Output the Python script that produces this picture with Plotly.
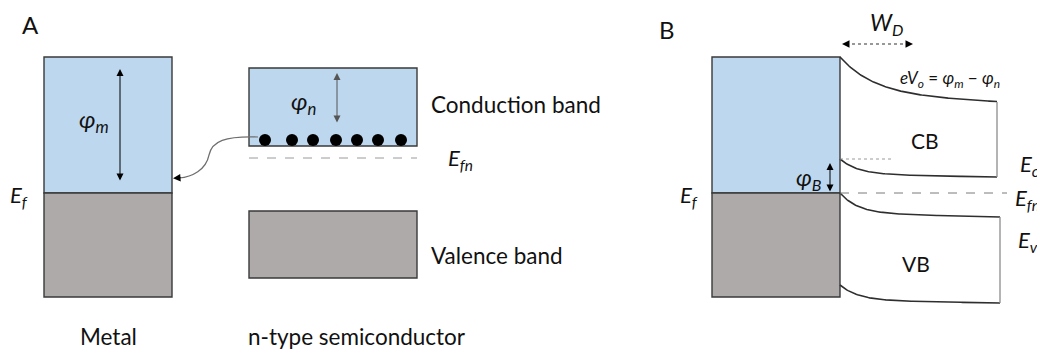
import numpy as np
import plotly.graph_objects as go

W, H = 1037, 349
BLUE = "#BDD7EE"
GRAY = "#AEAAAA"
EDGE = "#3A3A3A"
FONT = "Lato, 'Open Sans', sans-serif"

# ---- diagram values (pixel-like diagram units, y grows downward) ----
# Panel A
metal_a_x = [44, 172]
metal_levels = [57, 193, 297]          # vacuum/top, Fermi level, band bottom
sc_a_x = [249, 417]
cb_a_levels = [68, 146]
vb_a_levels = [211, 278]
efn_a_level = 158
electron_x = [265, 292, 313, 336, 357, 378, 401]
electron_level = 140

# Panel B
metal_b_x = [712, 840]
bulk_b_x = [840, 997, 1000]            # interface, CB bulk edge, VB bulk edge
cb_top_b = [57, 102]
cb_bot_b = [159, 177]
vb_top_b = [193, 217]
vb_bot_b = [285, 303]
efn_b_level = 193
wd_x = [842, 913]

fig = go.Figure()


def rect(x, y0, y1, fill):
    fig.add_shape(type="rect", x0=x[0], x1=x[1], y0=y0, y1=y1,
                  fillcolor=fill, line=dict(color=EDGE, width=1.4), layer="below")


def hline(x0, x1, y, color, dash, width=1):
    fig.add_shape(type="line", x0=x0, x1=x1, y0=y, y1=y,
                  line=dict(color=color, width=width, dash=dash))


def arrow(x, y, ax, ay, both=False, color="black", width=1, size=1.4):
    fig.add_annotation(x=x, y=y, ax=ax, ay=ay, xref="x", yref="y", axref="x", ayref="y",
                       text="", showarrow=True, arrowhead=2, startarrowhead=2,
                       arrowside="end+start" if both else "end",
                       arrowsize=size, startarrowsize=size, arrowwidth=width,
                       arrowcolor=color, standoff=0, startstandoff=0)


def label(x, y, text, size=22, anchor="center", color="#111111"):
    fig.add_annotation(x=x, y=y, xref="x", yref="y", text=text, showarrow=False,
                       xanchor=anchor, yanchor="middle",
                       font=dict(family=FONT, size=size, color=color))


def bend(x0, x1, y0, y1, L, n=120):
    xs = np.linspace(x0, x1, n)
    t = xs - x0
    frac = 0.85 * np.exp(-t / L) + 0.15 * (1 - t / (x1 - x0))
    return xs, y1 - (y1 - y0) * frac


def curve(xs, ys, color="#2e2e2e", width=1.6):
    fig.add_trace(go.Scatter(x=xs, y=ys, mode="lines", hoverinfo="skip",
                             line=dict(color=color, width=width)))


# ---------------- Panel A ----------------
rect(metal_a_x, metal_levels[0], metal_levels[1], BLUE)
rect(metal_a_x, metal_levels[1], metal_levels[2], GRAY)
rect(sc_a_x, cb_a_levels[0], cb_a_levels[1], BLUE)
rect(sc_a_x, vb_a_levels[0], vb_a_levels[1], GRAY)
hline(sc_a_x[0], sc_a_x[1], efn_a_level, "#9a9a9a", "dash")

# electron transfer curved arrow
fig.add_shape(type="path",
              path="M 258,137 C 225,136 212,141 209,155 C 206,170 192,177 179,178",
              line=dict(color="#6e6e6e", width=1.2))
arrow(173, 178.3, 182, 177.6, size=1.5)

fig.add_trace(go.Scatter(x=electron_x, y=[electron_level] * len(electron_x), mode="markers",
                         hoverinfo="skip", marker=dict(color="black", size=12, line=dict(width=0))))

arrow(120, 69, 120, 182, both=True)
arrow(337, 73, 337, 124, both=True, color="#555555")

label(30, 24, "A", size=24)
label(94, 120, "<i>φ</i><sub><i>m</i></sub>", size=24)
label(303, 102, "<i>φ</i><sub><i>n</i></sub>", size=24)
label(19, 196, "<i>E</i><sub><i>f</i></sub>", size=22)
label(446, 159, "<i>E</i><sub><i>fn</i></sub>", size=22, anchor="left")
label(429, 104, "Conduction band", size=22.5, anchor="left")
label(429, 255, "Valence band", size=22.5, anchor="left")
label(108, 336, "Metal", size=22.5)
label(357, 336, "n-type semiconductor", size=22.5)

# ---------------- Panel B ----------------
rect(metal_b_x, metal_levels[0], metal_levels[1], BLUE)
rect(metal_b_x, metal_levels[1], metal_levels[2], GRAY)

hline(bulk_b_x[0], 893, cb_bot_b[0], "#9a9a9a", "dot")
hline(bulk_b_x[0], 1007, efn_b_level, "#7a7a7a", "dash")

curve(*bend(bulk_b_x[0], bulk_b_x[1], cb_top_b[0], cb_top_b[1], 35))
curve(*bend(bulk_b_x[0], bulk_b_x[1], cb_bot_b[0], cb_bot_b[1], 18))
curve(*bend(bulk_b_x[0], bulk_b_x[2], vb_top_b[0], vb_top_b[1], 18))
curve(*bend(bulk_b_x[0], bulk_b_x[2], vb_bot_b[0], vb_bot_b[1], 18))
curve([bulk_b_x[1], bulk_b_x[1]], [cb_top_b[1], cb_bot_b[1]], color="#8c8c8c", width=1.3)
curve([bulk_b_x[2], bulk_b_x[2]], [vb_top_b[1], vb_bot_b[1]], color="#8c8c8c", width=1.3)

# W_D dotted double arrow
hline(wd_x[0] + 4, wd_x[1] - 4, 44, "#333333", "dot", width=1.2)
arrow(wd_x[0], 44, wd_x[0] + 7, 44, size=1.5)
arrow(wd_x[1], 44, wd_x[1] - 7, 44, size=1.5)

arrow(830, 163, 830, 193, both=True)

label(667, 29, "B", size=24)
label(886, 23, "<i>W</i><sub><i>D</i></sub>", size=23)
label(950, 79, "<i>eV</i><sub><i>o</i></sub> = <i>φ</i><sub><i>m</i></sub> − <i>φ</i><sub><i>n</i></sub>", size=17)
label(925, 140, "CB", size=21)
label(916, 263, "VB", size=21)
label(809, 178, "<i>φ</i><sub><i>B</i></sub>", size=23)
label(678, 196, "<i>E</i><sub><i>f</i></sub>", size=22, anchor="left")
label(1018, 165, "<i>E</i><sub><i>c</i></sub>", size=22, anchor="left")
label(1013, 199, "<i>E</i><sub><i>fn</i></sub>", size=22, anchor="left")
label(1016, 241, "<i>E</i><sub><i>v</i></sub>", size=22, anchor="left")

fig.update_layout(
    width=W, height=H, margin=dict(l=0, r=0, t=0, b=0),
    plot_bgcolor="white", paper_bgcolor="white", showlegend=False,
    xaxis=dict(range=[0, W], visible=False, fixedrange=True),
    yaxis=dict(range=[H, 0], visible=False, fixedrange=True),
)

fig.write_html("out.html")
